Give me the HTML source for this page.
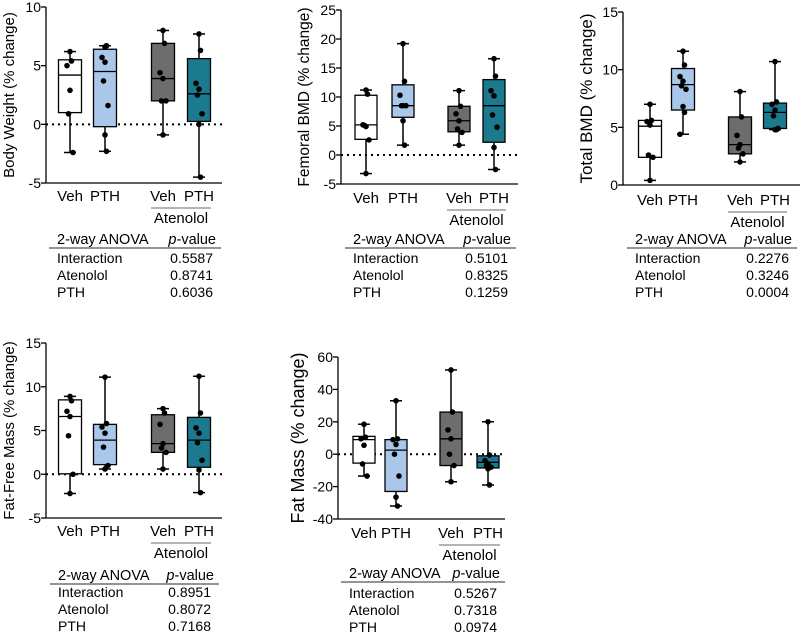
<!DOCTYPE html>
<html><head><meta charset="utf-8"><style>
body{margin:0;background:#fff;}
svg{display:block;font-family:"Liberation Sans",Arial,sans-serif;}
</style></head><body>
<svg id="fig" width="800" height="632" viewBox="0 0 800 632"></svg>
<script>
// Categories
const groups = ["Veh","PTH","Veh","PTH"];
const fills = ["#ffffff","#a8c7e9","#6d6d6d","#1b7a8e"];

// Panel A: Body Weight
const bwStats = [[-2.4,1.0,4.2,5.5,6.2],[-2.3,-0.2,4.5,6.4,6.7],[-0.9,2.0,3.9,6.9,8.0],[-4.5,0.25,2.6,5.6,7.7]];
const bwPts = [[6.2,5.4,5.0,2.9,0.9,-2.4],[6.6,6.7,5.7,5.3,3.7,1.6,-0.9,-2.3],[8.0,6.9,4.4,3.9,2.0,2.0,-0.9],[7.7,6.3,3.5,3.0,2.5,0.9,0.0,-4.5]];
const bwTicks = [-5,0,5,10];
const bwP = ["0.5587","0.8741","0.6036"];

// Panel B: Femoral BMD
const fbStats = [[-3.2,2.7,5.2,10.3,11.2],[1.7,6.5,8.5,12.1,19.2],[1.7,4.0,5.9,8.4,11.1],[-2.5,2.2,8.5,13.0,16.6]];
const fbPts = [[11.2,10.5,5.2,4.9,5.1,2.6,-3.2],[19.2,12.7,10.3,8.5,8.5,8.5,5.9,1.7],[11.1,8.4,7.1,5.9,4.5,3.9,1.7],[16.6,13.6,11.1,10.2,6.9,4.8,1.3,-2.5]];
const fbTicks = [-5,0,5,10,15,20,25];
const fbP = ["0.5101","0.8325","0.1259"];

// Panel C: Total BMD
const tbStats = [[0.4,2.4,5.1,5.6,7.0],[4.4,6.5,8.7,10.1,11.6],[2.0,2.7,3.5,5.9,8.1],[4.8,4.9,6.3,7.1,10.7]];
const tbPts = [[7.0,5.6,5.5,5.2,2.6,2.4,0.4],[11.6,10.4,9.4,9.0,8.6,8.3,6.8,6.3,4.4],[8.1,5.9,4.3,3.5,3.2,2.7,2.0],[10.7,7.2,7.0,6.5,6.0,4.9,4.8,4.8]];
const tbTicks = [0,5,10,15];
const tbP = ["0.2276","0.3246","0.0004"];

// Panel D: Fat-Free Mass
const ffStats = [[-2.2,0.05,6.6,8.5,8.9],[0.6,1.1,3.9,5.7,11.1],[0.6,2.5,3.5,6.8,7.5],[-2.1,0.8,3.9,6.5,11.2]];
const ffPts = [[8.9,8.4,7.2,6.6,4.4,0,-2.2],[11.1,5.8,5.4,4.7,3.1,1.0,0.6],[7.5,7.0,5.7,3.5,3.0,2.5,0.6],[11.2,7.0,5.3,4.7,3.6,1.6,0.5,-2.1]];
const ffTicks = [-5,0,5,10,15];
const ffP = ["0.8951","0.8072","0.7168"];

// Panel E: Fat Mass
const fmStats = [[-13.5,-5.5,9,11,18.5],[-32,-23,2.5,9,33],[-17,-7,9.5,26,52],[-19,-8.5,-5,-1,20]];
const fmPts = [[18.5,10.5,9.5,5.5,-6,-13.5],[33,9.5,9,6,0,-13.5,-26.5,-32],[52,26,15,9.5,0,-7,-17],[20,-0.5,-4,-6,-7,-8,-9,-19]];
const fmTicks = [-40,-20,0,20,40,60];
const fmP = ["0.5267","0.7318","0.0974"];

const anovaRows = ["Interaction","Atenolol","PTH"];

const NS="http://www.w3.org/2000/svg";
const svg=document.getElementById('fig');
function mk(tag,attrs,parent,text){const e=document.createElementNS(NS,tag);for(const k in attrs)e.setAttribute(k,attrs[k]);if(text!==undefined)e.textContent=text;(parent||svg).appendChild(e);return e;}

function panel(cfg){
  const g=mk('g',{});
  
  
  const dmin=cfg.ticks[0],dmax=cfg.ticks[cfg.ticks.length-1];
  const y=v=>cfg.yBot-(v-dmin)/(dmax-dmin)*(cfg.yBot-cfg.yTop);
  const ya=mk('line',{x1:cfg.ax,x2:cfg.ax,y1:cfg.yTop,y2:cfg.yBot,stroke:'#000','stroke-width':1.3},g);
  
  const xa=mk('line',{x1:cfg.ax,x2:cfg.xEnd,y1:cfg.yBot,y2:cfg.yBot,stroke:'#000','stroke-width':1.3},g);
  
  cfg.ticks.forEach(t=>{
    mk('line',{x1:cfg.ax-5,x2:cfg.ax,y1:y(t),y2:y(t),stroke:'#000','stroke-width':1.3},g);
    const tl=mk('text',{x:cfg.ax-5,y:y(t)+5,'text-anchor':'end','font-size':14},g,String(t));
    
  });
  if(dmin<0){
    const z=mk('line',{x1:cfg.ax,x2:cfg.xEnd,y1:y(0),y2:y(0),stroke:'#000','stroke-width':2,'stroke-dasharray':'2,4'},g);
    
  }
  const yc=(cfg.yTop+cfg.yBot)/2;
  const tt=mk('text',{x:cfg.titleX,y:yc,'text-anchor':'middle','font-size':cfg.tfs,transform:`rotate(-90 ${cfg.titleX} ${yc})`},g,cfg.title);
  
  cfg.stats.forEach((s,i)=>{
    const cx=cfg.cx[i],w=cfg.bw;
    const bg=mk('g',{},g);
    
    
    mk('line',{x1:cx,x2:cx,y1:y(s[0]),y2:y(s[4]),stroke:'#000','stroke-width':1.5},bg);
    mk('line',{x1:cx-6,x2:cx+6,y1:y(s[0]),y2:y(s[0]),stroke:'#000','stroke-width':1.5},bg);
    mk('line',{x1:cx-6,x2:cx+6,y1:y(s[4]),y2:y(s[4]),stroke:'#000','stroke-width':1.5},bg);
    mk('rect',{x:cx-w/2,y:y(s[3]),width:w,height:y(s[1])-y(s[3]),fill:fills[i],stroke:'#000','stroke-width':1.3},bg);
    mk('line',{x1:cx-w/2,x2:cx+w/2,y1:y(s[2]),y2:y(s[2]),stroke:'#000','stroke-width':1.3},bg);
    cfg.pts[i].forEach((p,j)=>{
      const off=(j%2?1:-1)*((j%3)*1.5);
      const c=mk('circle',{cx:cx+off,cy:y(p),r:2.8,fill:'#000'},bg);
      
      
    });
    const lb=mk('text',{x:cx,y:cfg.labY,'text-anchor':'middle','font-size':15},g,groups[i]);
    
  });
  const al=mk('line',{x1:cfg.cx[2]-12,x2:cfg.cx[3]+12,y1:cfg.labY+7,y2:cfg.labY+7,stroke:'#888','stroke-width':1.2},g);
  
  const at=mk('text',{x:(cfg.cx[2]+cfg.cx[3])/2,y:cfg.labY+22,'text-anchor':'middle','font-size':15},g,'Atenolol');
  
  const tg=mk('g',{},g);
  
  mk('text',{x:cfg.tL,y:cfg.tY,'font-size':14.5},tg,'2-way ANOVA');
  const pv=mk('text',{x:cfg.tR,y:cfg.tY,'font-size':14.5,'text-anchor':'end'},tg);
  mk('tspan',{'font-style':'italic'},pv,'p');mk('tspan',{},pv,'-value');
  mk('line',{x1:cfg.tL-8,x2:cfg.tR+5,y1:cfg.tY+4,y2:cfg.tY+4,stroke:'#555','stroke-width':1.2},tg);
  anovaRows.forEach((r,k)=>{
    mk('text',{x:cfg.tL,y:cfg.tY+cfg.r1+k*17,'font-size':14},tg,r);
    mk('text',{x:cfg.tR-3,y:cfg.tY+cfg.r1+k*17,'font-size':14,'text-anchor':'end'},tg,cfg.p[k]);
  });
}

panel({name:'body-weight-panel',title:'Body Weight (% change)',ticks:bwTicks,stats:bwStats,pts:bwPts,p:bwP,tfs:15,
  ax:46,xEnd:222,yTop:7,yBot:183,titleX:14,cx:[70,105,163,199],bw:23,labY:201,tL:57,tR:216,tY:244,r1:19});
panel({name:'femoral-bmd-panel',title:'Femoral BMD (% change)',ticks:fbTicks,stats:fbStats,pts:fbPts,p:fbP,tfs:15.5,
  ax:341,xEnd:518,yTop:10,yBot:184,titleX:309,cx:[366,403,459,494],bw:22,labY:203,tL:353,tR:511,tY:244,r1:19});
panel({name:'total-bmd-panel',title:'Total BMD (% change)',ticks:tbTicks,stats:tbStats,pts:tbPts,p:tbP,tfs:17,
  ax:623,xEnd:800,yTop:12,yBot:185,titleX:592,cx:[650,683,740,775],bw:23,labY:205,tL:635,tR:792,tY:244,r1:19});
panel({name:'fat-free-mass-panel',title:'Fat-Free Mass (% change)',ticks:ffTicks,stats:ffStats,pts:ffPts,p:ffP,tfs:15,
  ax:46,xEnd:222,yTop:343,yBot:518,titleX:14,cx:[70,105,163,199],bw:23,labY:536,tL:58,tR:214,tY:580,r1:17});
panel({name:'fat-mass-panel',title:'Fat Mass (% change)',ticks:fmTicks,stats:fmStats,pts:fmPts,p:fmP,tfs:18,
  ax:338,xEnd:505,yTop:357,yBot:519,titleX:304,cx:[364,396,451,488],bw:22,labY:538,tL:349,tR:500,tY:578,r1:20});
</script>
</body></html>
